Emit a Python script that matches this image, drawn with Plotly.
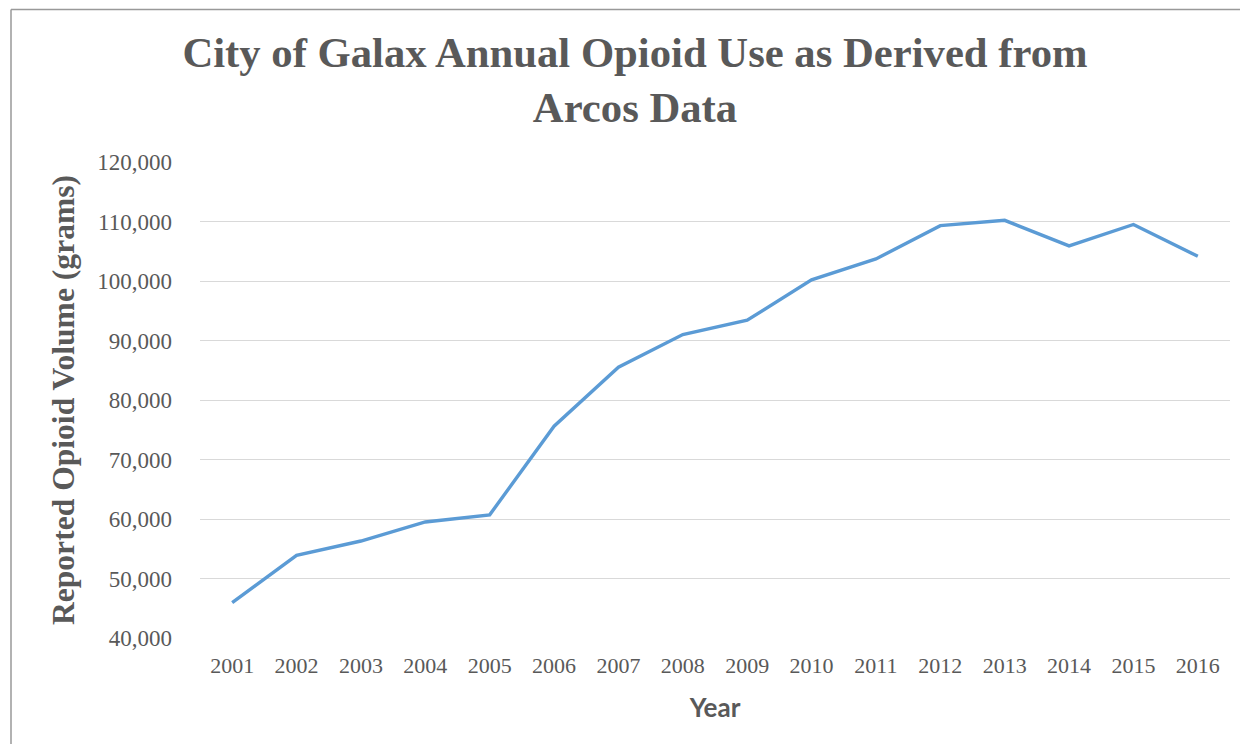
import plotly.graph_objects as go

years = ["2001", "2002", "2003", "2004", "2005", "2006", "2007", "2008",
         "2009", "2010", "2011", "2012", "2013", "2014", "2015", "2016"]
volume = [45950, 53900, 56300, 59500, 60700, 75600, 85500, 91000,
          93400, 100200, 103700, 109300, 110200, 105900, 109500, 104150]
y_ticks = [40000, 50000, 60000, 70000, 80000, 90000, 100000, 110000, 120000]

# page body has an 8px margin, so the figure is sized/offset to compensate
W, H = 1232, 736
L, R, T, B = 192, 10, 154, 106
TXT = "#595959"
SERIF = "Liberation Serif, Times New Roman, serif"

fig = go.Figure()
fig.add_trace(go.Scatter(
    x=years, y=volume, mode="lines",
    line=dict(color="#5B9BD5", width=3.4),
    hoverinfo="x+y", showlegend=False,
))

pw = W - L - R
ph = H - T - B
plot_bottom = H - B
bx = (3 - L) / pw
by_top = (plot_bottom - 1.5) / ph
by_bot = (plot_bottom - (H + 40)) / ph
bx_right = (W + 40 - L) / pw
# outer chart border (decoration): left and top edges only visible
fig.add_shape(type="line", xref="paper", yref="paper",
              x0=bx, x1=bx, y0=by_bot, y1=by_top,
              line=dict(color="#999999", width=1.5), layer="below")
fig.add_shape(type="line", xref="paper", yref="paper",
              x0=bx, x1=bx_right, y0=by_top, y1=by_top,
              line=dict(color="#999999", width=1.5), layer="below")

fig.update_layout(
    width=W, height=H,
    margin=dict(l=L, r=R, t=T, b=B),
    paper_bgcolor="white", plot_bgcolor="white",
    title=dict(
        text="City of Galax Annual Opioid Use as Derived from<br>Arcos Data",
        font=dict(family=SERIF, size=42.7, color=TXT, weight="bold"),
        x=627 / W, xanchor="center", xref="container",
        y=1 - 58.5 / H, yanchor="middle", yref="container",
    ),
    xaxis=dict(
        type="category", range=[-0.5, len(years) - 0.5],
        showgrid=False, zeroline=False, showline=False,
        ticks="", tickfont=dict(family=SERIF, size=22, color=TXT),
        ticklabelstandoff=12,
        title=dict(text="Year", font=dict(family="Lato, sans-serif", size=26, color=TXT, weight="bold"),
                   standoff=21),
    ),
    yaxis=dict(
        range=[40000, 120000], tickvals=y_ticks, tickformat=",d",
        showgrid=True, gridcolor="#D9D9D9", gridwidth=1.3,
        zeroline=False, showline=False, ticks="",
        tickfont=dict(family=SERIF, size=23, color=TXT),
        ticklabelstandoff=27,
        title=dict(text="Reported Opioid Volume (grams)",
                   font=dict(family=SERIF, size=31.6, color=TXT, weight="bold"),
                   standoff=13),
    ),
)

fig.write_html("out.html")
